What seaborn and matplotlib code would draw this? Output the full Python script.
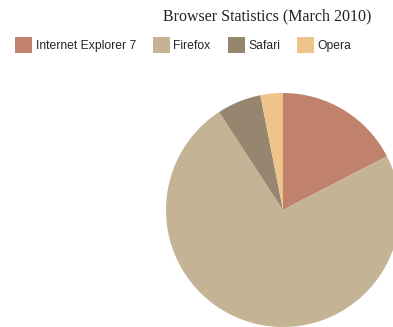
import matplotlib
matplotlib.use("Agg")
import matplotlib.pyplot as plt
from matplotlib.patches import Patch
import seaborn as sns

# browser share (%)
browsers = ["Internet Explorer 7", "Firefox", "Safari", "Opera"]
share = [17.4, 73.4, 6.1, 3.1]
colors = ["#C0826A", "#C4B394", "#968670", "#EEC48A"]

sns.set_theme(style="white")
plt.rcParams["font.family"] = ["Liberation Sans", "DejaVu Sans"]

W, H = 393, 327
fig = plt.figure(figsize=(W / 100, H / 100), dpi=100, facecolor="white")

# pie centre (283, 210) px, radius 117 px
cx, cy, r = 283, 210, 117
ax = fig.add_axes([(cx - r) / W, (H - cy - r) / H, 2 * r / W, 2 * r / H])
ax.pie(share, colors=colors, startangle=90, counterclock=False,
       radius=1, wedgeprops=dict(linewidth=0))
ax.set_xlim(-1, 1)
ax.set_ylim(-1, 1)
ax.set_aspect("equal")
ax.axis("off")

fig.text(267.5 / W, 1 - 16 / H, "Browser Statistics (March 2010)",
         ha="center", va="center", fontsize=11.5,
         family=["Liberation Serif", "DejaVu Serif"], color="#222222")

fs = 8.7
handles = [Patch(facecolor=c, edgecolor="none") for c in colors]
fig.legend(handles, browsers, loc="center left",
           bbox_to_anchor=(15 / W, 1 - 45 / H), ncol=4, frameon=False,
           fontsize=fs, handlelength=17 / (fs * 1.389),
           handleheight=1.6,
           handletextpad=0.3, columnspacing=1.4, borderpad=0,
           borderaxespad=0)

fig.savefig("out.png", dpi=100, facecolor="white")
